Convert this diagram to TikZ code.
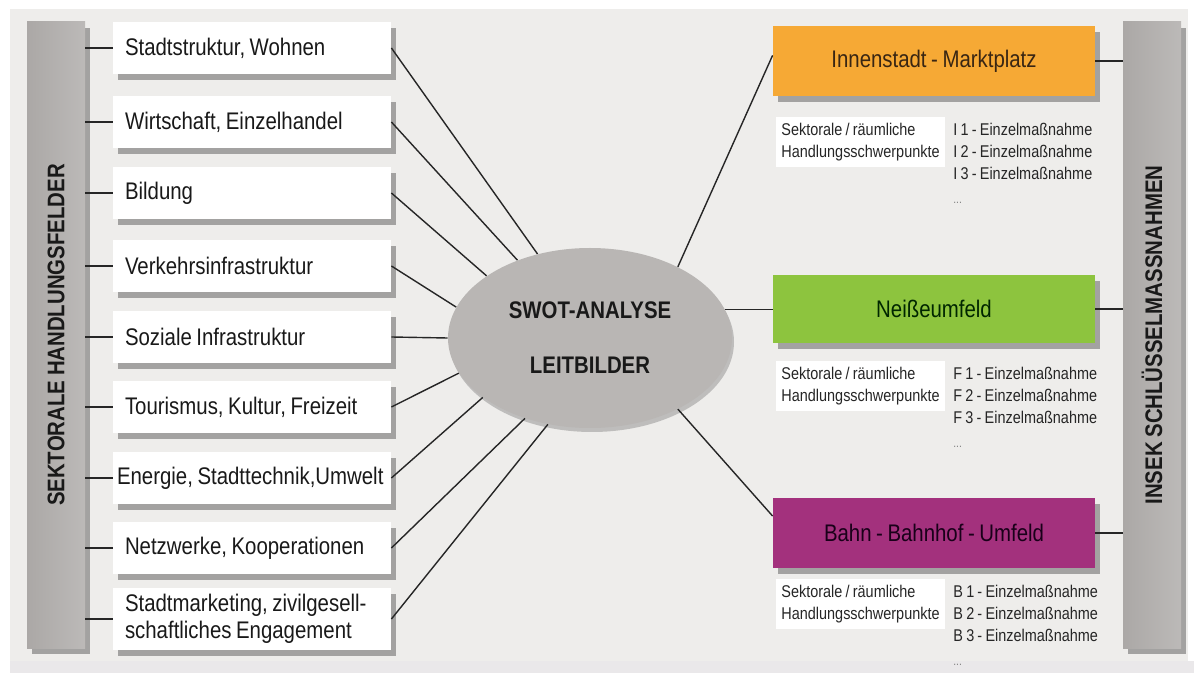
\documentclass[tikz,border=0pt]{standalone}
\usepackage{fontspec}
\setmainfont[FakeStretch=0.85, WordSpace=0.8]{Liberation Sans}
\usetikzlibrary{shapes.geometric,shadows}

\definecolor{bggrau}{HTML}{EEEDEB}
\definecolor{randgrau}{HTML}{EAE8EA}
\definecolor{balkengrau}{HTML}{ABA8A6}
\definecolor{ellgrau}{HTML}{B9B6B4}
\definecolor{orangebox}{HTML}{F6A935}
\definecolor{gruenbox}{HTML}{8DC43E}
\definecolor{lilabox}{HTML}{A3317D}

\tikzset{
schatten/.style={drop shadow={shadow xshift=2.5pt, shadow yshift=-3pt, opacity=.5, fill=black!65}},
balken/.style={fill=balkengrau, minimum width=29pt, minimum height=313pt, inner sep=0pt, schatten},
balkentext/.style={rotate=90, font=\bfseries\fontsize{12}{14}\selectfont, text=black!90},
feld/.style={fill=white, minimum height=26pt, text width=127pt, inner xsep=6pt, align=flush left,
  font=\fontsize{12}{13.5}\selectfont, text=black!90, schatten},
projekt/.style={minimum width=161pt, minimum height=35pt, inner sep=0pt,
  font=\fontsize{12}{14}\selectfont, schatten},
hinweis/.style={anchor=north west, fill=white, inner xsep=2.5pt, inner ysep=3pt, align=left,
  font=\fontsize{8.5}{11}\selectfont, text=black!85},
liste/.style={anchor=north west, inner xsep=1pt, inner ysep=3pt, align=left,
  font=\fontsize{8.5}{11}\selectfont, text=black!85},
verb/.style={draw=black!85, line width=0.7pt},
}

\newcommand{\punkte}{\\[1pt]{\fontsize{6}{7}\selectfont\color{black!50}...}}

\begin{document}
\begin{tikzpicture}[x=0.5pt, y=-0.5pt]
\useasboundingbox (0,0) rectangle (1194,673);
\fill[white] (0,0) rectangle (1194,673);
\fill[bggrau] (10,9) rectangle (1188,661);
\fill[randgrau] (10,661) rectangle (1194,673);

% seitliche Balken
\node[balken, left color=balkengrau, right color=balkengrau!80] (sektor) at (56,335) {};
\node[balkentext] (sektortext) at (sektor) {SEKTORALE HANDLUNGSFELDER};
\node[balken, left color=balkengrau, right color=balkengrau!80] (insek) at (1152,335) {};
\node[balkentext] (insektext) at (insek) {INSEK SCHLÜSSELMASSNAHMEN};

% Handlungsfelder
\node[feld] (feld1) at (252,48) {Stadtstruktur, Wohnen};
\node[feld] (feld2) at (252,122) {Wirtschaft, Einzelhandel};
\node[feld] (feld3) at (252,193) {Bildung};
\node[feld] (feld4) at (252,266) {Verkehrsinfrastruktur};
\node[feld] (feld5) at (252,337) {Soziale Infrastruktur};
\node[feld] (feld6) at (252,407) {Tourismus, Kultur, Freizeit};
\node[feld, text width=135pt, inner xsep=2pt] (feld7) at (252,478) {Energie, Stadttechnik,Umwelt};
\node[feld] (feld8) at (252,548) {Netzwerke, Kooperationen};
\node[feld] (feld9) at (252,619) {Stadtmarketing, zivilgesell-\\schaftliches Engagement};

% Mitte
\node[ellipse, fill=ellgrau, minimum width=142pt, minimum height=90pt, inner sep=0pt, align=center,
  font=\bfseries\fontsize{12}{27.5}\selectfont, text=black!90,
  drop shadow={shadow xshift=1pt, shadow yshift=-2pt, opacity=.35, fill=black!60}]
  (swot) at (590,338) {SWOT-ANALYSE\\LEITBILDER};

% Schwerpunkte
\node[projekt, fill=orangebox, text=brown!30!black] (inn) at (934,61) {Innenstadt - Marktplatz};
\node[projekt, fill=gruenbox, minimum height=34pt, text=green!15!black] (neisse) at (934,309) {Neißeumfeld};
\node[projekt, fill=lilabox, text=violet!20!black] (bahn) at (934,533) {Bahn - Bahnhof - Umfeld};

\node[hinweis] (hinw1) at (776,117) {Sektorale / räumliche\\Handlungsschwerpunkte};
\node[liste] (liste1) at (951,117) {I 1 - Einzelmaßnahme\\I 2 - Einzelmaßnahme\\I 3 - Einzelmaßnahme\punkte};
\node[hinweis] (hinw2) at (776,361) {Sektorale / räumliche\\Handlungsschwerpunkte};
\node[liste] (liste2) at (951,361) {F 1 - Einzelmaßnahme\\F 2 - Einzelmaßnahme\\F 3 - Einzelmaßnahme\punkte};
\node[hinweis] (hinw3) at (776,579) {Sektorale / räumliche\\Handlungsschwerpunkte};
\node[liste] (liste3) at (951,579) {B 1 - Einzelmaßnahme\\B 2 - Einzelmaßnahme\\B 3 - Einzelmaßnahme\punkte};

% Verbindungen links
\draw[verb] (feld1.west -| sektor.east) -- (feld1.west);
\draw[verb] (feld2.west -| sektor.east) -- (feld2.west);
\draw[verb] (feld3.west -| sektor.east) -- (feld3.west);
\draw[verb] (feld4.west -| sektor.east) -- (feld4.west);
\draw[verb] (feld5.west -| sektor.east) -- (feld5.west);
\draw[verb] (feld6.west -| sektor.east) -- (feld6.west);
\draw[verb] (feld7.west -| sektor.east) -- (feld7.west);
\draw[verb] (feld8.west -| sektor.east) -- (feld8.west);
\draw[verb] (feld9.west -| sektor.east) -- (feld9.west);

\draw[verb] (feld1.east) -- (swot.122);
\draw[verb] (feld2.east) -- (swot.133);
\draw[verb] (feld3.east) -- (swot.149);
\draw[verb] (feld4.east) -- (swot.167);
\draw[verb] (feld5.east) -- (swot.west);
\draw[verb] (feld6.east) -- (swot.195);
\draw[verb] (feld7.east) -- (swot.209);
\draw[verb] (feld8.east) -- (swot.231);
\draw[verb] (feld9.east) -- (swot.244);

% Verbindungen rechts
\draw[verb] (swot.39) -- (inn.178);
\draw[verb] (swot.12) -- (swot.12 -| neisse.west);
\draw[verb] (swot.-39) -- (bahn.174);
\draw[verb] (inn.east) -- (inn.east -| insek.west);
\draw[verb] (neisse.east) -- (neisse.east -| insek.west);
\draw[verb] (bahn.east) -- (bahn.east -| insek.west);
\end{tikzpicture}
\end{document}
